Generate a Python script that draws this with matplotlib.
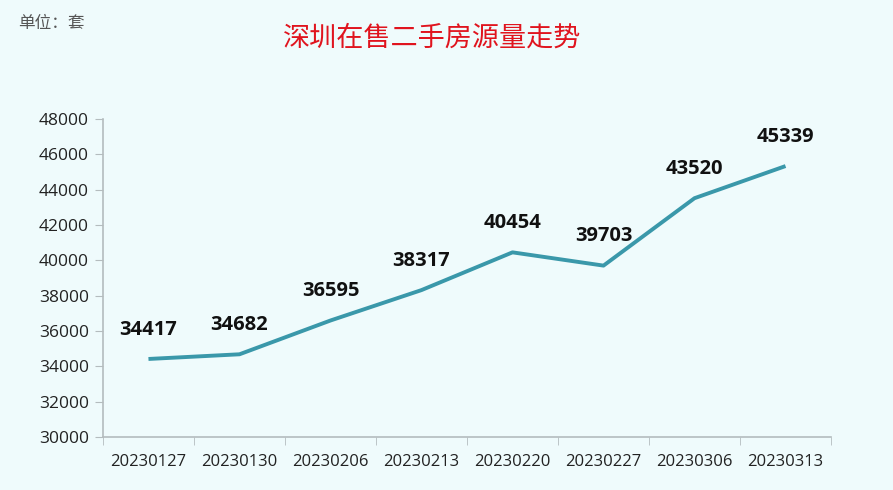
import matplotlib.pyplot as plt
import numpy as np

plt.rcParams['font.family'] = ['Open Sans', 'Noto Sans CJK SC', 'DejaVu Sans']

dates = ['20230127', '20230130', '20230206', '20230213',
         '20230220', '20230227', '20230306', '20230313']
listings = [34417, 34682, 36595, 38317, 40454, 39703, 43520, 45339]

bg = '#effbfc'
line_color = '#3a98aa'
axis_color = '#b4bcbe'

fig = plt.figure(figsize=(8.93, 4.90), dpi=100, facecolor=bg)
ax = fig.add_axes([0.1153, 0.1082, 0.8153, 0.6488], facecolor=bg)

x = np.arange(len(dates))
ax.plot(x, listings, color=line_color, linewidth=2.8, solid_capstyle='butt')

# data labels above each point
for xi, v in zip(x, listings):
    ax.annotate(str(v), (xi, v), xytext=(0, 21), textcoords='offset points',
                ha='center', va='center', fontsize=14.5, fontweight='bold',
                color='#111111')

ax.set_xlim(-0.5, len(dates) - 0.5)
ax.set_ylim(30000, 48000)
ax.set_yticks(np.arange(30000, 48001, 2000))
ax.set_xticks(x)
ax.set_xticklabels(dates)
ax.set_xticks(np.arange(-0.5, len(dates)), minor=True)

ax.tick_params(axis='x', which='major', length=0, pad=12, labelsize=12, labelcolor='#222222')
ax.tick_params(axis='x', which='minor', length=6, color=axis_color, direction='out')
ax.tick_params(axis='y', length=6, color=axis_color, labelsize=12.5, labelcolor='#222222', pad=4)

for side in ['top', 'right']:
    ax.spines[side].set_visible(False)
for side in ['left', 'bottom']:
    ax.spines[side].set_color(axis_color)
    ax.spines[side].set_linewidth(1.2)

fig.text(0.484, 0.922, '深圳在售二手房源量走势', ha='center', va='center',
         fontsize=19.5, color='#e0141e', family=['Noto Sans CJK SC'])
fig.text(0.02, 0.952, '单位：套', ha='left', va='center',
         fontsize=12, color='#555555', family=['Noto Sans CJK SC'])

fig.savefig('out.png', dpi=100, facecolor=bg)
